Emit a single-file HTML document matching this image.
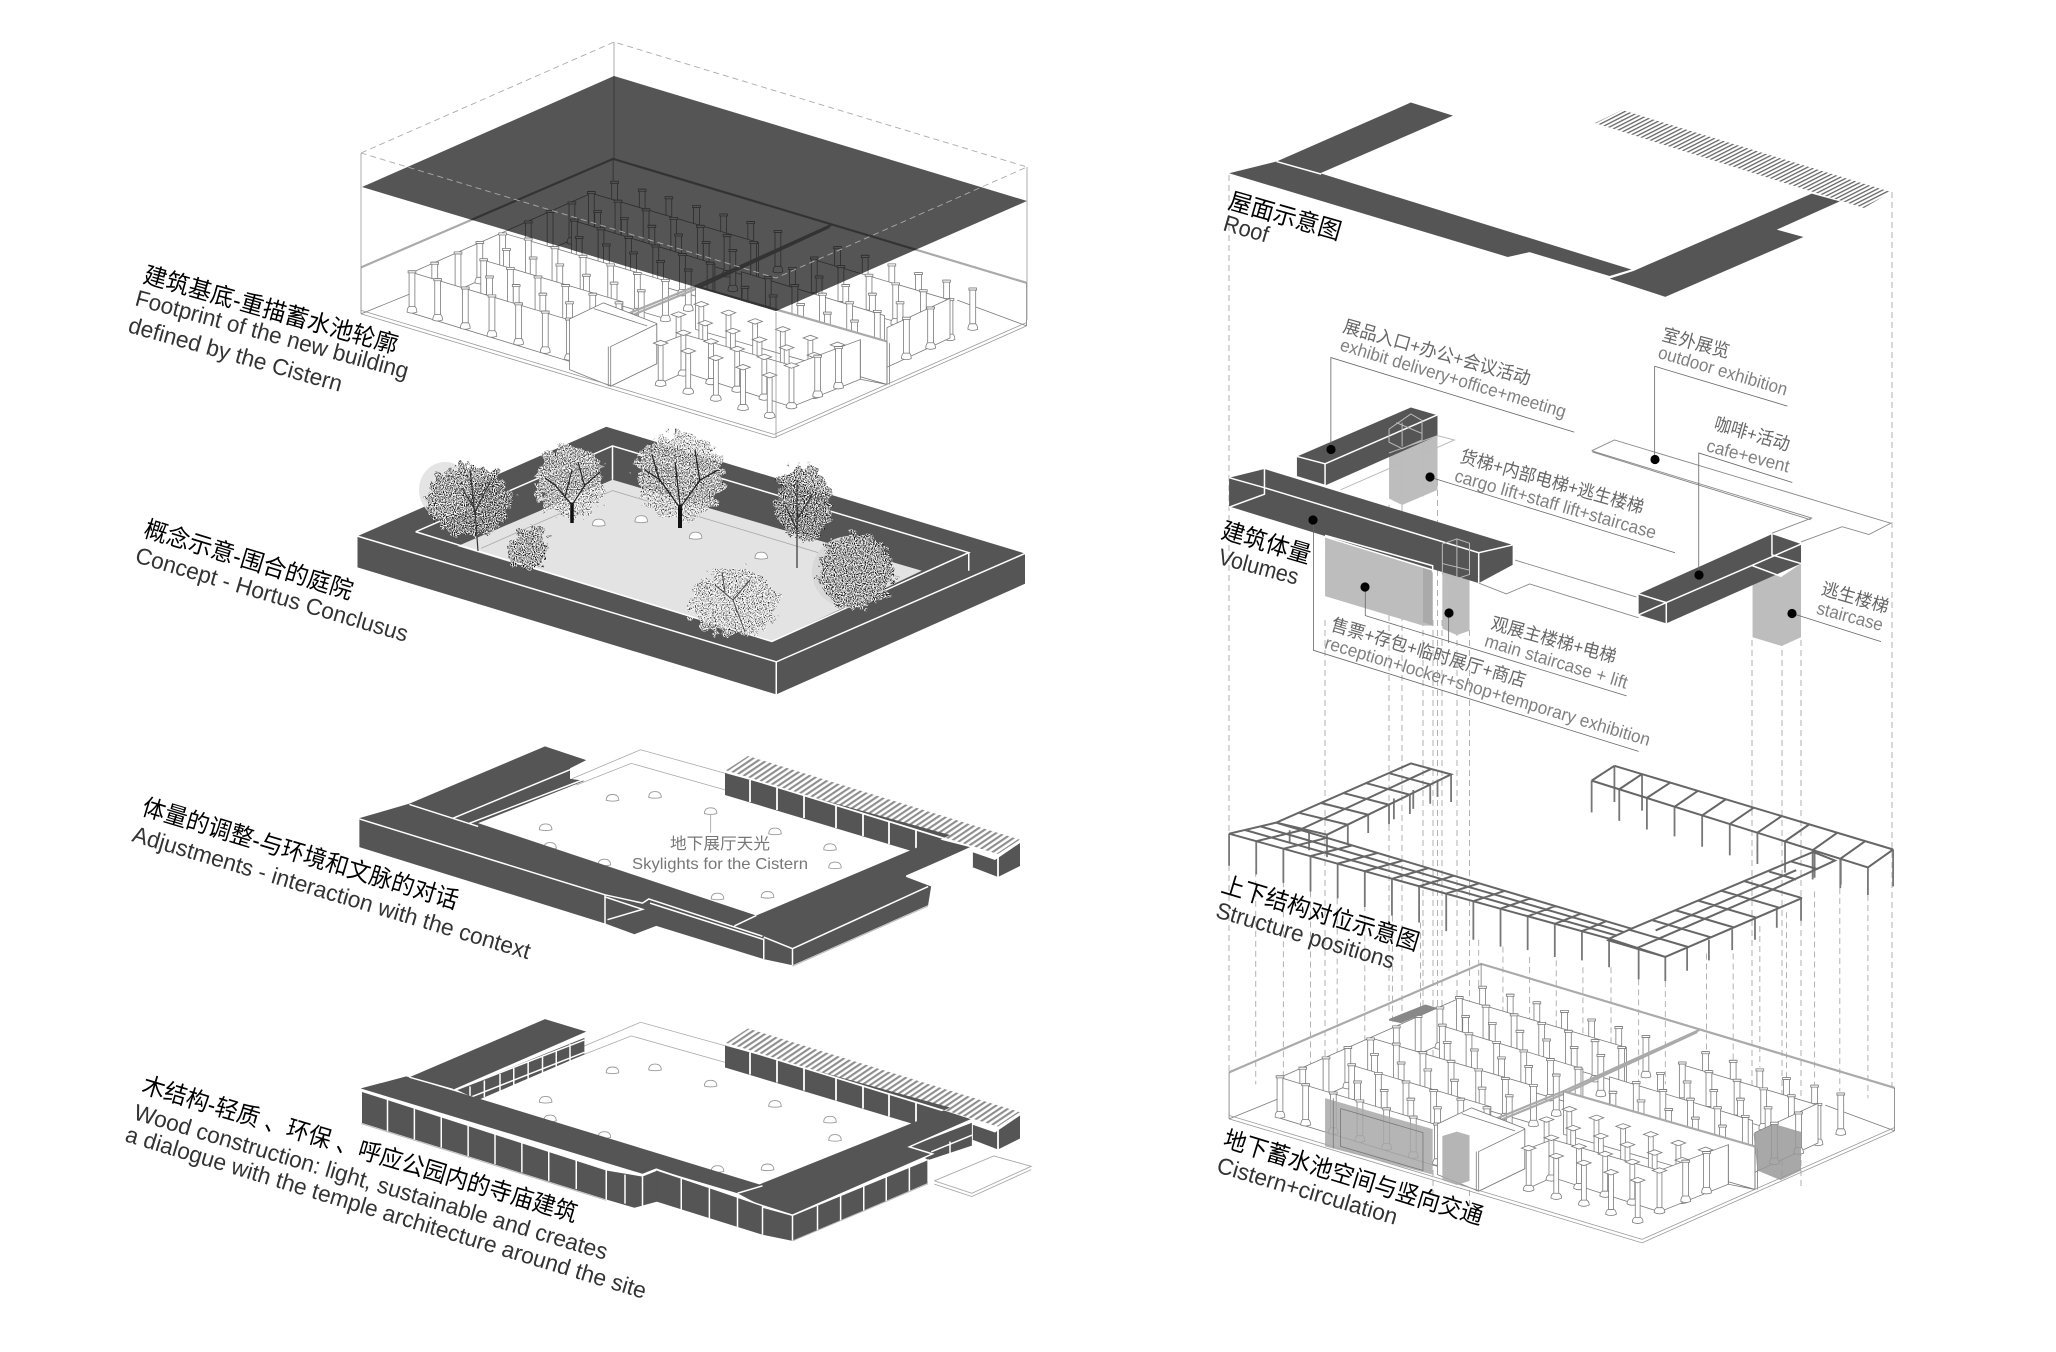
<!DOCTYPE html>
<html><head><meta charset="utf-8"><title>Diagram</title>
<style>
html,body{margin:0;padding:0;background:#fff}
svg{display:block}
svg *{vector-effect:non-scaling-stroke}
.f{fill:var(--f);stroke:var(--s);stroke-width:.8}
.n{fill:none;stroke:var(--s);stroke-width:.8}
.t{fill:none;stroke:var(--t);stroke-width:2.2}
.w{fill:none;stroke:#fff;stroke-width:1.5}
.d{fill:#555;stroke:none}
.sk{fill:#fff;stroke:#999;stroke-width:.9}
.ds{fill:none;stroke:#aaa;stroke-width:.9;stroke-dasharray:6 4}
.ld{fill:none;stroke:#666;stroke-width:.8}
.st{fill:none;stroke:#666;stroke-width:2}
.po{fill:none;stroke:#777;stroke-width:1.8}
.gr{fill:#bdbdbd;stroke:none}
text{font-family:"Liberation Sans","Noto Sans CJK SC",sans-serif}
.a{font-size:24px;fill:#000}
.b{font-size:23px;fill:#333}
.c{font-size:18px;fill:#666}
.g{font-size:18px;fill:#808080}
.e{font-size:16px;fill:#888}
</style></head>
<body>
<svg xmlns="http://www.w3.org/2000/svg" width="2056" height="1352" viewBox="0 0 2056 1352" style="--s:#7a7a7a;--f:#fff;--t:#aaa">
<defs>
<pattern id="h1" width="4.6" height="4.6" patternUnits="userSpaceOnUse" patternTransform="rotate(56)"><rect width="2.1" height="4.6" fill="#8e8e8e"/></pattern>
<pattern id="h2" width="3.4" height="3.4" patternUnits="userSpaceOnUse" patternTransform="rotate(63)"><rect width="1.3" height="3.4" fill="#666"/></pattern>
<filter id="leaf" x="-15%" y="-15%" width="130%" height="130%" color-interpolation-filters="sRGB">
<feTurbulence type="fractalNoise" baseFrequency=".12" numOctaves="2" seed="5" result="e"/>
<feDisplacementMap in="SourceGraphic" in2="e" scale="22" xChannelSelector="R" yChannelSelector="G" result="d"/>
<feTurbulence type="fractalNoise" baseFrequency=".85" numOctaves="2" seed="9" result="n"/>
<feColorMatrix in="n" type="matrix" values="4 0 0 0 -1.1 4 0 0 0 -1.1 4 0 0 0 -1.1 0 4 0 0 -1.0" result="g"/>
<feComposite in="g" in2="d" operator="in"/>
</filter>
<filter id="leaf2" x="-15%" y="-15%" width="130%" height="130%" color-interpolation-filters="sRGB">
<feTurbulence type="fractalNoise" baseFrequency=".12" numOctaves="2" seed="8" result="e"/>
<feDisplacementMap in="SourceGraphic" in2="e" scale="22" xChannelSelector="R" yChannelSelector="G" result="d"/>
<feTurbulence type="fractalNoise" baseFrequency=".9" numOctaves="2" seed="3" result="n"/>
<feColorMatrix in="n" type="matrix" values="4.5 0 0 0 -1.6 4.5 0 0 0 -1.6 4.5 0 0 0 -1.6 0 4 0 0 -0.9" result="g"/>
<feComposite in="g" in2="d" operator="in"/>
</filter>
<clipPath id="roofclip"><polygon points="614,76 362,187 776,311 1027,201"/></clipPath>

<g id="c"><rect class="f" x="-6" y="0" width="12" height="106"/><path class="f" d="M-8 0H8V6H-8Z"/><path class="f" d="M-10 120Q-10 108 -6 104H6Q10 108 10 120Q0 126 -10 120Z"/></g>
<g id="k"><rect class="f" x="-5" y="4" width="10" height="106"/><path class="f" d="M-15 0L0 -8L15 0L0 8Z"/><path class="f" d="M-11 122Q-11 112 -6 108H6Q11 112 11 122Q0 130 -11 122Z"/></g>
<path id="sl" class="sk" d="M-10 5Q-10 -9 0 -9Q10 -9 10 5Q0 9 -10 5Z"/>

<g id="cistern">
<path class="t" d="M60 965L580 650L1433 1010"/>
<path class="n" d="M60 965V1100M1433 1010V1135M580 650V730M60 1100L165 1040M1433 1135L1290 1060"/>
<polygon class="f" points="165,980 535,750 535,860 165,1090"/>
<use href="#c" x="212" y="950"/><use href="#c" x="260" y="920"/><use href="#c" x="305" y="890"/><use href="#c" x="405" y="830"/><use href="#c" x="450" y="800"/><use href="#c" x="495" y="775"/>
<use href="#c" x="583" y="715"/><use href="#c" x="640" y="738"/><use href="#c" x="695" y="760"/><use href="#c" x="752" y="785"/><use href="#c" x="808" y="810"/><use href="#c" x="864" y="832"/><use href="#c" x="920" y="858"/>
<polygon class="f" points="535,750 880,893 880,1000 535,860"/>
<use href="#c" x="535" y="745"/><use href="#c" x="590" y="770"/><use href="#c" x="648" y="795"/><use href="#c" x="705" y="820"/><use href="#c" x="760" y="843"/><use href="#c" x="815" y="870"/><use href="#c" x="870" y="890"/>
<use href="#c" x="548" y="800"/><use href="#c" x="603" y="820"/><use href="#c" x="660" y="843"/><use href="#c" x="715" y="868"/><use href="#c" x="772" y="890"/><use href="#c" x="827" y="913"/>
<polygon class="f" points="500,830 790,955 790,1065 500,945"/>
<use href="#c" x="500" y="825"/><use href="#c" x="555" y="850"/><use href="#c" x="612" y="875"/><use href="#c" x="668" y="900"/><use href="#c" x="723" y="925"/><use href="#c" x="780" y="950"/>
<use href="#c" x="510" y="875"/><use href="#c" x="566" y="897"/><use href="#c" x="622" y="920"/><use href="#c" x="678" y="945"/><use href="#c" x="735" y="970"/>
<polygon class="f" points="352,865 690,1005 690,1115 352,975"/>
<use href="#c" x="352" y="865"/><use href="#c" x="405" y="880"/><use href="#c" x="460" y="905"/><use href="#c" x="518" y="930"/><use href="#c" x="575" y="955"/><use href="#c" x="630" y="980"/><use href="#c" x="688" y="1000"/>
<use href="#c" x="360" y="910"/><use href="#c" x="415" y="935"/><use href="#c" x="470" y="955"/><use href="#c" x="525" y="985"/><use href="#c" x="582" y="1008"/><use href="#c" x="638" y="1030"/>
<polygon class="f" points="315,945 600,1065 600,1175 315,1055"/>
<use href="#c" x="313" y="940"/><use href="#c" x="368" y="965"/><use href="#c" x="425" y="990"/><use href="#c" x="482" y="1015"/><use href="#c" x="538" y="1040"/><use href="#c" x="592" y="1065"/>
<use href="#c" x="325" y="990"/><use href="#c" x="380" y="1015"/><use href="#c" x="435" y="1040"/><use href="#c" x="490" y="1065"/>
<polygon class="f" points="165,980 490,1118 490,1238 165,1098"/>
<use href="#c" x="165" y="975"/><use href="#c" x="218" y="998"/><use href="#c" x="275" y="1022"/><use href="#c" x="330" y="1045"/><use href="#c" x="385" y="1068"/><use href="#c" x="440" y="1092"/><use href="#c" x="490" y="1112"/>
<use href="#c" x="1043" y="905"/><use href="#c" x="1100" y="930"/><use href="#c" x="1155" y="955"/><use href="#c" x="1210" y="980"/><use href="#c" x="1268" y="1002"/><use href="#c" x="1322" y="1025"/>
<polygon class="f" points="1000,945 1275,1060 1275,1170 1000,1055"/>
<use href="#c" x="995" y="935"/><use href="#c" x="1050" y="960"/><use href="#c" x="1108" y="985"/><use href="#c" x="1163" y="1010"/><use href="#c" x="1220" y="1030"/><use href="#c" x="1275" y="1055"/>
<use href="#c" x="950" y="965"/><use href="#c" x="1005" y="990"/><use href="#c" x="1060" y="1015"/><use href="#c" x="1115" y="1040"/><use href="#c" x="1172" y="1065"/>
<polygon class="f" points="845,978 1140,1105 1140,1215 845,1088"/>
<use href="#c" x="900" y="992"/><use href="#c" x="955" y="1015"/><use href="#c" x="1012" y="1040"/><use href="#c" x="1068" y="1065"/><use href="#c" x="1125" y="1090"/>
<use href="#c" x="852" y="1020"/><use href="#c" x="910" y="1045"/><use href="#c" x="967" y="1070"/><use href="#c" x="1022" y="1095"/><use href="#c" x="1078" y="1118"/>
<polygon class="f" points="1145,1140 1275,1055 1275,1170 1145,1255"/>
<use href="#c" x="1185" y="1110"/><use href="#c" x="1235" y="1080"/>
<path class="t" d="M1030 842L750 1020L610 1100M1026 848L750 1028L616 1106"/>
<polygon class="f" points="490,1115 560,1068 670,1128 670,1245 575,1310 490,1262"/>
<path class="n" d="M540 1085L650 1135"/>
<polygon class="f" points="575,1195 670,1130 670,1245 575,1310"/>
<path class="n" d="M570 1195V1310"/>
<polygon class="f" points="750,1020 1145,1180 1145,1305 750,1145"/>
<path class="t" d="M750 1020L1145,1180"/>
<use href="#k" x="762" y="1072"/><use href="#k" x="818" y="1097"/><use href="#k" x="873" y="1122"/><use href="#k" x="930" y="1145"/><use href="#k" x="987" y="1170"/><use href="#k" x="1043" y="1190"/>
<use href="#k" x="715" y="1102"/><use href="#k" x="770" y="1127"/><use href="#k" x="827" y="1150"/><use href="#k" x="882" y="1175"/><use href="#k" x="938" y="1198"/><use href="#k" x="995" y="1220"/>
<polygon class="f" points="727,1160 948,1250 1090,1175 1090,1290 948,1370 727,1270 680,1300 680,1185"/>
<use href="#c" x="1002" y="1220"/><use href="#c" x="1045" y="1195"/>
<use href="#k" x="725" y="1155"/><use href="#k" x="782" y="1180"/><use href="#k" x="836" y="1202"/><use href="#k" x="892" y="1225"/><use href="#k" x="948" y="1250"/>
<use href="#k" x="678" y="1185"/><use href="#k" x="735" y="1208"/><use href="#k" x="792" y="1228"/><use href="#k" x="848" y="1255"/><use href="#k" x="903" y="1278"/>
<path class="n" d="M1090 1175V1290M1145 1180V1305M1150 1185V1305M1090 1290L1145 1305"/>
<path class="n" style="stroke:#999" d="M60 1100L912 1460L1433 1135M60 1090L912 1450L1433 1125"/>
</g>

<g id="court">
<g transform="translate(100,700) scale(.625,.4145)">
<path class="n" style="stroke:#aaa" d="M755 190L865 120L1003 178M762 205L850 153L1003 218"/>
<use href="#sl" x="820" y="237"/><use href="#sl" x="888" y="230"/><use href="#sl" x="713" y="308"/><use href="#sl" x="720" y="353"/><use href="#sl" x="807" y="393"/><use href="#sl" x="977" y="269"/><use href="#sl" x="1080" y="318"/><use href="#sl" x="1168" y="356"/><use href="#sl" x="1176" y="400"/><use href="#sl" x="988" y="475"/><use href="#sl" x="1068" y="471"/>
</g>
</g>
<g id="perg">
<polygon points="725,771 748,756 1021,840 998,855" fill="url(#h1)"/>
<polygon class="d" points="725,773 725,795 915,852 950,835"/>
<polygon class="d" points="972,852 995,860 1020,843 1020,866 998,877 972,867"/>
<path class="w" style="stroke-width:1.8" d="M725 771L998 855L1021 840M750 780V802M777 788V810M804 796V818M836 806V828M863 814V836M889 822V844M916 830V852M972 846V867M998 855V877"/>
</g>
</defs>

<!-- BLOCK 1 -->
<use href="#cistern" transform="translate(332,-65) scale(.4847,.3444)"/>
<polygon class="d" points="614,76 362,187 776,311 1027,201"/>
<g clip-path="url(#roofclip)" style="--s:#2c2c2c;--f:#555;--t:#333">
<use href="#cistern" transform="translate(332,-65) scale(.4847,.3444)"/>
</g>
<path fill="none" stroke="#aaa" stroke-width=".9" stroke-dasharray="6 4" d="M361 153L614 42L1027 167L776 278L361 153"/>
<path fill="none" stroke="#999" stroke-width=".8" d="M614 42V76M361 153V313M1027 167V320M776 312V438"/>
<path fill="none" stroke="#333" stroke-width=".8" d="M614 76V159"/>

<!-- BLOCK 2 -->
<g transform="translate(100,20) scale(.625,.4337)">
<polygon class="d" points="412,1190 810,938 1480,1230 1480,1300 1082,1555 412,1262"/>
<polygon fill="#e3e3e3" points="572,1213 820,1060 1315,1270 1075,1433"/>
<path class="w" d="M412 1190L1082 1480L1480 1230M1082 1480V1555M505 1180L820 982L1390 1228L1075 1433L505 1180M820 982V1060M1390 1228V1270"/>
<path fill="none" stroke="#aaa" stroke-width=".8" d="M610 1218L820 1085L1280 1285"/>
<use href="#sl" x="798" y="1160"/><use href="#sl" x="866" y="1152"/><use href="#sl" x="953" y="1190"/><use href="#sl" x="1058" y="1236"/>
</g>
<g>
<ellipse cx="445" cy="490" rx="26" ry="28" fill="#e4e4e4"/>
<ellipse cx="850" cy="572" rx="38" ry="36" fill="#d8d8d8"/>
<ellipse cx="469" cy="501" rx="42" ry="36" fill="#fff" filter="url(#leaf2)"/>
<path d="M478 551L475 510L462 488M475 512L490 482M475 515L470 470" stroke="#333" stroke-width="1.2" fill="none"/>
<ellipse cx="570" cy="482" rx="34" ry="36" fill="#fff" filter="url(#leaf)"/>
<path d="M572 523L572 503" stroke="#111" stroke-width="3.5" fill="none"/><path d="M572 505L555 485L545 478M572 505L585 485L600 472M565 497L572 470M585 487L578 462" stroke="#222" stroke-width="1.2" fill="none"/>
<ellipse cx="680" cy="476" rx="44" ry="44" fill="#fff" filter="url(#leaf)"/>
<path d="M680 528L680 505" stroke="#111" stroke-width="4" fill="none"/><path d="M680 508L660 480L645 470M680 508L700 480L718 470M680 505L675 462M700 482L695 450M660 482L652 455" stroke="#222" stroke-width="1.3" fill="none"/>
<ellipse cx="803" cy="503" rx="28" ry="38" fill="#fff" filter="url(#leaf2)"/>
<path d="M797 568V480M797 520L812 495M797 530L785 505" stroke="#333" stroke-width="1.2" fill="none"/>
<ellipse cx="528" cy="549" rx="20" ry="23" fill="#fff" filter="url(#leaf2)"/>
<ellipse cx="856" cy="571" rx="38" ry="38" fill="#fff" filter="url(#leaf2)"/>
<ellipse cx="734" cy="603" rx="44" ry="34" fill="#fff" filter="url(#leaf)"/>
<path d="M745 632L733 600L715 585M733 600L750 580M725 592L722 572" stroke="#444" stroke-width="1" fill="none"/>
</g>

<!-- BLOCK 3 -->
<use href="#court"/>
<use href="#perg"/>
<g transform="translate(100,700) scale(.625,.4145)">
<polygon class="d" points="495,250 712,112 778,145 752,165 752,190 775,195 605,297 1050,520 1340,335 1392,355 1290,425 1330,448 1325,495 1108,640 1062,625 890,545 855,565 810,540 415,355 415,285"/>
<path class="w" d="M495 252L605 305M565 285L752 168M590 298L772 193M415 287L808 470L868 490L878 480L1060 570M880 490L1062 578M1015 545L1050 520M1062 572L1108 600L1325 450M808 470V545M1062 575V625M1108 600V640M808 475L868 505L812 530M1290 425L1392 358M1290 425L1330 448"/>
<path fill="none" stroke="#bbb" stroke-width="1" d="M1108 642L1325 497"/>
<path fill="none" stroke="#aaa" stroke-width=".9" d="M977 275V320"/>
</g>
<text class="e" x="670" y="849" textLength="100" lengthAdjust="spacingAndGlyphs" style="fill:#777">地下展厅天光</text>
<text class="e" x="632" y="869" textLength="176" lengthAdjust="spacingAndGlyphs" style="fill:#777">Skylights for the Cistern</text>

<!-- BLOCK 4 -->
<g transform="translate(0,272.5)"><use href="#court"/><use href="#perg"/></g>
<g transform="translate(100,700) scale(.625,.4145)">
<path fill="none" stroke="#aaa" stroke-width=".9" d="M1335 1160L1430 1100L1490 1125L1395 1190L1335 1160M1335 1168L1395 1198L1490 1133"/>
<polygon class="d" points="570,940 775,815 775,855 605,965"/>
<path class="w" d="M592 932V972M615 918V958M640 902V945M662 888V930M685 872V915M708 858V900M730 845V885M752 830V870M570 940L775 820M590 960L775 850"/>
<polygon class="d" points="418,945 810,1135 810,1205 418,1020"/>
<polygon class="d" points="810,1135 868,1150 892,1135 892,1210 855,1225 810,1205"/>
<polygon class="d" points="890,1135 1060,1220 1060,1290 890,1210"/>
<polygon class="d" points="1060,1225 1108,1245 1108,1305 1060,1290"/>
<polygon class="d" points="1108,1245 1325,1110 1325,1165 1108,1305"/>
<polygon class="d" points="1295,1078 1395,1020 1395,1075 1325,1110"/>
<polygon class="d" points="495,910 712,770 778,800 565,940"/>
<polygon class="d" points="415,938 490,908 1058,1170 1020,1190 890,1132 868,1145"/>
<polygon class="d" points="1020,1190 1350,990 1395,1012 1295,1078 1332,1095 1108,1243 1060,1222"/>
<path class="w" d="M495 910L565 940M415 938L868 1145L890 1132L1060 1220L1108 1243L1332 1095L1295 1078L1395 1012M1020 1190L1060 1172M418 945V1022M460 965V1040M503 985V1060M546 1005V1080M589 1025V1100M632 1045V1120M675 1065V1140M718 1085V1160M762 1105V1180M810 1128V1205M840 1145V1215M868 1150V1225M930 1155V1230M975 1178V1252M1020 1198V1272M1060 1222V1290M1108 1245V1305M1148 1220V1280M1185 1195V1258M1222 1172V1235M1258 1150V1212M1295 1126V1190M1325 1108V1165M1330 1090L1395 1050M1360 1065V1100"/>
<path fill="none" stroke="#bbb" stroke-width="1" d="M1108 1305L1325 1167M418 1022L810 1207"/>
</g>

<!-- ROOF right -->
<polygon points="1595,123 1622,110 1891,192 1864,208" fill="url(#h2)"/>
<g transform="translate(1200,80) scale(.4847,.4337)">
<polygon class="d" points="60,215 158,188 435,52 522,82 248,215 890,437 845,452 680,397 635,408"/>
<polygon class="d" points="845,458 895,440 1262,262 1320,280 1190,345 1245,362 960,500"/>
<path class="w" d="M158 188L250 217"/>
</g>

<!-- Dashed verticals -->
<path class="ds" d="M1229 175V1072M1892 192V1088M1325 620V1100M1389 505V1015M1402 505V1100M1423 620V1100M1433 620V1200M1437.5 480V1040M1442 620V1160M1457 630V1160M1469.5 630V1210M1752 640V1160M1782 640V1180M1801 640V1190"/>
<g transform="translate(1200,740) scale(.4847,.3444)">
<path class="ds" d="M115 380V1000M172 410V1010M228 440V1010M283 460V1000M340 480V900M397 510V850M455 530V830M575 580V720M625 600V850M680 630V900M735 640V860M790 660V880M848 660V1000M905 695V1000M960 700V1000M1045 620V900M1100 620V930M1155 540V950M1210 500V980M1268 440V1000M1320 430V1020M1378 450V1040"/>
</g>

<!-- Volumes -->
<g transform="translate(1200,80) scale(.4847,.4337)">
<path fill="none" stroke="#888" stroke-width=".9" d="M808 855L855 830L1425 1022L1380 1048L1325 1030L1240 1065M808 855L1262 1010L1180 1045M650 1107L900 1192M575 1160L632 1185L680 1162L905 1240M810 858L1260 1014"/>
<polygon class="gr" points="390,830 417,845 490,810 490,945 417,980 390,965"/>
<polygon class="d" points="200,868 435,755 490,773 490,820 258,935 200,915"/>
<path class="w" d="M200 868L258 885V935M258 885L490 772M200 915L258 935"/>
<path fill="none" stroke="#bbb" stroke-width="1" d="M390 805L435 770L458 785V830L417 850L390 835V805M405 790L458 815M417 790V845M390 860L490 820L525 830L290 945M417 865V975M460 835V960"/>
<polygon class="gr" points="258,1050 480,1125 480,1258 460,1258 258,1190"/>
<polygon fill="#aaa" points="460,1120 480,1125 480,1258 460,1250"/>
<polygon class="gr" points="500,1130 556,1130 556,1270 530,1280 500,1265"/>
<polygon class="d" points="60,917 133,897 645,1072 645,1118 575,1160 60,985"/>
<path class="w" d="M60 917L133 940L575 1090L645 1072M133 897V955L60 985M575 1090V1160M60 985L480 1130M258 1050L480 1120V1135"/>
<path fill="none" stroke="#bbb" stroke-width="1" d="M500 1070L530 1058L556 1068V1140L530 1150L500 1140V1070M530 1058V1150M500 1115L556 1130"/>
<polygon class="gr" points="1140,1120 1200,1145 1240,1115 1240,1285 1200,1305 1140,1285"/>
<polygon class="d" points="905,1185 1180,1047 1240,1070 1240,1115 962,1253 905,1233"/>
<path class="w" d="M905 1185L962 1205V1253M962 1205L1240 1070M1180 1047V1095L1240 1115M905 1233L962 1205M1140 1120L1200 1145"/>
<path class="ld" d="M270 852V640L772 812M475 916L980 1090M234 1014V1315L905 1548M341 1168V1235L880 1420M513 1228V1298M938 875V660L1212 752M1029 1141V860L1222 928M1222 1230L1405 1295"/>
</g>
<g fill="#000"><circle cx="1331" cy="449.5" r="4.6"/><circle cx="1430" cy="477" r="4.6"/><circle cx="1313" cy="520" r="4.6"/><circle cx="1365" cy="587" r="4.6"/><circle cx="1449" cy="613" r="4.6"/><circle cx="1655" cy="459.5" r="4.6"/><circle cx="1699" cy="575" r="4.6"/><circle cx="1792" cy="613.5" r="4.6"/></g>

<!-- Structure -->
<g transform="translate(1200,740) scale(.4847,.3444)">
<path class="po" d="M60 272V365M116 294V390M172 316V415M228 337V440M284 359V460M340 381V485M396 403V510M452 425V530M508 446V555M564 468V580M620 490V600M676 512V610M732 534V630M788 555V640M844 577V660
M262 275V340M305 246V300M347 217V270M390 188V245M433 159V215M475 129V185M518 100V180M225 270V320M185 262V300M490 115V165M440 145V200M400 170V230
M905 605V695M960 630V700M1005 605V670M1050 580V640M1098 550V610M1145 520V580M1190 490V545M1240 460V525M1268 325V400M1322 345V420
M808 118V210M865 143V235M922 168V260M979 194V280M1036 219V310M1093 244V335M1150 269V360M1207 294V385M1264 320V405M1321 345V430M1378 370V450M1430 318V425M855 75V180M912 99V205"/>
<path class="st" d="M60 272L844 577L960 630L1242 459M157 240L890 548L1265 325L1310 350L1180 435M92 261L860 568M125 251L875 558M60 272L157 240L435 68L518 100L262 275
M60 272L157 240M116 294L209 262M172 316L262 284M228 337L314 306M284 359L367 328M340 381L419 350M396 403L471 372M452 425L524 394M508 446L576 416M564 468L629 438M620 490L681 460M676 512L733 482M732 534L786 504M788 555L838 526M844 577L890 548
M157 240L262 275M203 211L305 246M250 183L347 217M296 154L390 188M342 125L433 159M389 96L475 129M435 68L518 100M210 258L477 84
M960 630L839 580M1007 601L886 551M1054 573L933 523M1101 544L980 494M1148 516L1027 466M1195 487L1074 437M1242 459L1121 409M1174 382L1230 405M1220 353L1275 375M1265 325L1310 350M900 605L1182 434M940 553L1230 378
M855 75L1430 318M808 118L1378 370M808 118L855 75M912 99L865 143M970 124L922 168M1027 148L979 194M1085 172L1036 219M1142 197L1093 244M1200 221L1150 269M1257 245L1207 294M1315 269L1264 320M1372 294L1321 345M1430 318L1378 370"/>
</g>

<!-- cistern 2 -->
<use href="#cistern" transform="translate(1200,740) scale(.4847,.3444)"/>
<g transform="translate(1200,740) scale(.4847,.3444)">
<polygon fill="#a8a8a8" fill-opacity=".85" points="258,1040 480,1130 480,1262 258,1180"/>
<path fill="none" stroke="#777" stroke-width=".8" d="M290 1070L460 1140V1250L290 1180V1070M275 1040V1185"/>
<polygon fill="#a8a8a8" fill-opacity=".85" points="500,1150 530,1137 556,1148 556,1280 530,1292 500,1278"/>
<polygon fill="#888" points="390,810 465,768 490,778 415,822 390,815"/>
<polygon fill="#999" fill-opacity=".85" points="1142,1143 1185,1115 1240,1138 1240,1250 1198,1278 1150,1250"/>
</g>

<!-- LABELS left -->
<text class="a" transform="translate(142,282) rotate(15.8)" textLength="263" lengthAdjust="spacingAndGlyphs">建筑基底-重描蓄水池轮廓</text>
<text class="b" transform="translate(134,305) rotate(15.2)" textLength="282" lengthAdjust="spacingAndGlyphs">Footprint of the new building</text>
<text class="b" transform="translate(127,332) rotate(15.7)" textLength="221" lengthAdjust="spacingAndGlyphs">defined by the Cistern</text>
<text class="a" transform="translate(142.5,536) rotate(17)" textLength="217" lengthAdjust="spacingAndGlyphs">概念示意-围合的庭院</text>
<text class="b" transform="translate(134,562) rotate(16.4)" textLength="283" lengthAdjust="spacingAndGlyphs">Concept - Hortus Conclusus</text>
<text class="a" transform="translate(140.6,814) rotate(16.8)" textLength="329" lengthAdjust="spacingAndGlyphs">体量的调整-与环境和文脉的对话</text>
<text class="b" transform="translate(131,841) rotate(16.6)" textLength="414" lengthAdjust="spacingAndGlyphs">Adjustments - interaction with the context</text>
<text class="a" transform="translate(140.6,1092) rotate(16.7)" textLength="453" lengthAdjust="spacingAndGlyphs">木结构-轻质 、环保 、呼应公园内的寺庙建筑</text>
<text class="b" transform="translate(132.5,1119) rotate(16.6)" textLength="493" lengthAdjust="spacingAndGlyphs">Wood construction: light, sustainable and creates</text>
<text class="b" transform="translate(124,1141) rotate(16.9)" textLength="543" lengthAdjust="spacingAndGlyphs">a dialogue with the temple architecture around the site</text>

<!-- LABELS right -->
<text class="a" transform="translate(1227,208) rotate(16)" textLength="116" lengthAdjust="spacingAndGlyphs">屋面示意图</text>
<text class="b" transform="translate(1222,230) rotate(16)" textLength="46" lengthAdjust="spacingAndGlyphs">Roof</text>
<text class="a" transform="translate(1220,537.5) rotate(16.5)" textLength="92" lengthAdjust="spacingAndGlyphs">建筑体量</text>
<text class="b" transform="translate(1217,563.6) rotate(15)" textLength="82" lengthAdjust="spacingAndGlyphs">Volumes</text>
<text class="c" transform="translate(1342,331.5) rotate(16)" textLength="194" lengthAdjust="spacingAndGlyphs">展品入口+办公+会议活动</text>
<text class="g" transform="translate(1339,350) rotate(16.8)" textLength="235" lengthAdjust="spacingAndGlyphs">exhibit delivery+office+meeting</text>
<text class="c" transform="translate(1661,340) rotate(15)" textLength="69" lengthAdjust="spacingAndGlyphs">室外展览</text>
<text class="g" transform="translate(1657,357.6) rotate(16.5)" textLength="134" lengthAdjust="spacingAndGlyphs">outdoor exhibition</text>
<text class="c" transform="translate(1713,429) rotate(16.3)" textLength="78" lengthAdjust="spacingAndGlyphs">咖啡+活动</text>
<text class="g" transform="translate(1705.5,451) rotate(14.7)" textLength="85" lengthAdjust="spacingAndGlyphs">cafe+event</text>
<text class="c" transform="translate(1459,461.6) rotate(15.9)" textLength="190" lengthAdjust="spacingAndGlyphs">货梯+内部电梯+逃生楼梯</text>
<text class="g" transform="translate(1453.5,481) rotate(16.1)" textLength="209" lengthAdjust="spacingAndGlyphs">cargo lift+staff lift+staircase</text>
<text class="c" transform="translate(1490,628.6) rotate(15.5)" textLength="129" lengthAdjust="spacingAndGlyphs">观展主楼梯+电梯</text>
<text class="g" transform="translate(1483.5,646) rotate(16.8)" textLength="148.5" lengthAdjust="spacingAndGlyphs">main staircase + lift</text>
<text class="c" transform="translate(1330,630) rotate(16.4)" textLength="202" lengthAdjust="spacingAndGlyphs">售票+存包+临时展厅+商店</text>
<text class="g" transform="translate(1323.6,648) rotate(16.8)" textLength="339" lengthAdjust="spacingAndGlyphs">reception+locker+shop+temporary exhibition</text>
<text class="c" transform="translate(1820.4,594) rotate(16.2)" textLength="69" lengthAdjust="spacingAndGlyphs">逃生楼梯</text>
<text class="g" transform="translate(1815.6,613.5) rotate(15)" textLength="68" lengthAdjust="spacingAndGlyphs">staircase</text>
<text class="a" transform="translate(1220,891.5) rotate(16.8)" textLength="205" lengthAdjust="spacingAndGlyphs">上下结构对位示意图</text>
<text class="b" transform="translate(1214.5,917) rotate(16.3)" textLength="185" lengthAdjust="spacingAndGlyphs">Structure positions</text>
<text class="a" transform="translate(1222,1146) rotate(17)" textLength="270" lengthAdjust="spacingAndGlyphs">地下蓄水池空间与竖向交通</text>
<text class="b" transform="translate(1215.5,1172) rotate(16.4)" textLength="187" lengthAdjust="spacingAndGlyphs">Cistern+circulation</text>
</svg>
</body></html>
